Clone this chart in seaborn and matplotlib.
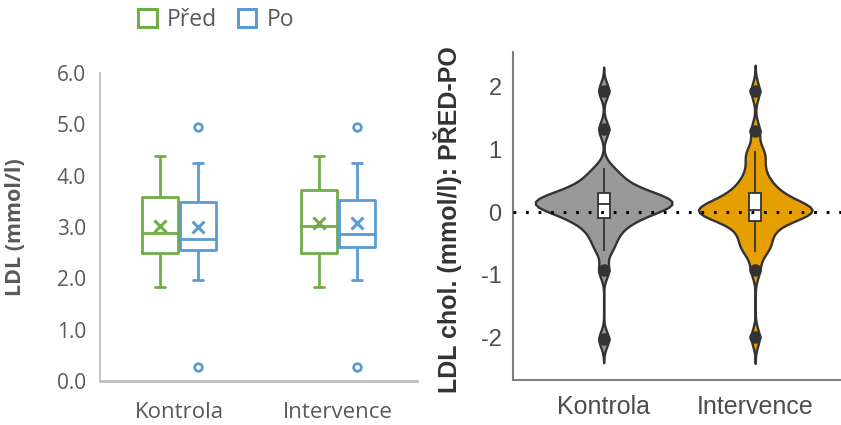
import numpy as np
import pandas as pd
import matplotlib
matplotlib.use("Agg")
import matplotlib.pyplot as plt
from matplotlib.patches import Patch
import seaborn as sns

# ---------------- data ----------------
groups = ["Kontrola", "Intervence"]
times = ["Před", "Po"]

kontrola_pred = [1.84, 2.10, 2.30, 2.45, 2.53, 2.65, 2.78, 2.89, 3.05, 3.25, 3.50, 3.66, 3.90, 4.10, 4.38]
kontrola_po = [0.27, 1.97, 2.30, 2.48, 2.55, 2.66, 2.71, 2.75, 2.77, 3.10, 3.30, 3.42, 3.48, 3.95, 4.15, 4.24, 4.94]
intervence_pred = [1.84, 2.10, 2.30, 2.44, 2.56, 2.72, 2.85, 3.02, 3.12, 3.25, 3.62, 3.82, 3.95, 4.07, 4.38]
intervence_po = [0.27, 1.97, 2.50, 2.60, 2.62, 2.74, 2.80, 2.84, 2.86, 3.20, 3.38, 3.48, 3.53, 4.05, 4.18, 4.24, 4.94]

diff_kontrola = [-2.03, -0.93, -0.62, -0.48, -0.37, -0.28, -0.20, -0.14, -0.10, -0.08,
                 -0.03, 0.01, 0.04, 0.06, 0.08, 0.10, 0.11, 0.13, 0.14, 0.16,
                 0.18, 0.20, 0.22, 0.24, 0.26, 0.29, 0.31, 0.35, 0.40, 0.46,
                 0.52, 0.60, 0.71, 1.32, 1.94]
diff_intervence = [-2.00, -0.92, -0.64, -0.58, -0.50, -0.40, -0.32, -0.25, -0.18, -0.12,
                   -0.08, -0.05, -0.03, -0.01, 0.00, 0.01, 0.02, 0.03, 0.05, 0.07,
                   0.09, 0.12, 0.15, 0.19, 0.24, 0.29, 0.33, 0.40, 0.48, 0.58,
                   0.72, 0.90, 0.97, 1.30, 1.93]

y_ticks_left = [0, 1, 2, 3, 4, 5, 6]
y_ticks_right = [-2, -1, 0, 1, 2]

# ---------------- tables ----------------
rows = []
for g, t, vals in [("Kontrola", "Před", kontrola_pred), ("Kontrola", "Po", kontrola_po),
                   ("Intervence", "Před", intervence_pred), ("Intervence", "Po", intervence_po)]:
    for v in vals:
        rows.append((g, t, v))
df_box = pd.DataFrame(rows, columns=["group", "time", "LDL"])

rows = [("Kontrola", v) for v in diff_kontrola] + [("Intervence", v) for v in diff_intervence]
df_vio = pd.DataFrame(rows, columns=["group", "diff"])

# ---------------- style ----------------
GREEN = "#70AD47"
BLUE = "#5B9BD5"
AX_GRAY = "#BFBFBF"
TXT_GRAY = "#595959"
VIO_COLORS = {"Kontrola": "#999999", "Intervence": "#E69F00"}
VIO_WIDTH = {"Kontrola": 0.90, "Intervence": 0.75}
VIO_BW = {"Kontrola": 0.20, "Intervence": 0.21}

sns.set_style("white")
plt.rcParams["font.family"] = ["Open Sans", "DejaVu Sans"]

fig = plt.figure(figsize=(8.41, 4.25), dpi=100)

# ---------------- left panel ----------------
axl = fig.add_axes([100 / 841, 1 - 381 / 425, 317 / 841, 308 / 425])
sns.boxplot(data=df_box, x="group", y="LDL", hue="time", order=groups, hue_order=times,
            palette=[GREEN, BLUE], saturation=1, fill=False, width=0.48, gap=0.06,
            linewidth=2.0, whis=1.5, showmeans=True, capwidths=0.065,
            meanprops=dict(marker="x", markersize=9, markeredgewidth=2.2),
            flierprops=dict(marker="o", markersize=5.5, markeredgewidth=2.0, markerfacecolor="white"),
            legend=False, ax=axl)
for ln in axl.lines:
    if ln.get_marker() == "x":
        xd = np.asarray(ln.get_xdata(), dtype=float)
        c = GREEN if (xd[0] - np.round(xd[0])) < 0 else BLUE
        ln.set_color(c)
        ln.set_markeredgecolor(c)

axl.set_ylim(0, 6)
axl.set_xlim(-0.5, 1.5)
axl.set_yticks(y_ticks_left)
axl.set_yticklabels([f"{v:.1f}" for v in y_ticks_left])
axl.set_xlabel("")
axl.set_ylabel("LDL (mmol/l)", fontsize=15.5, fontweight="bold", color=TXT_GRAY)
axl.yaxis.set_label_coords(-0.232, 0.5)
axl.tick_params(axis="y", length=0, pad=10, labelsize=15, labelcolor=TXT_GRAY)
axl.tick_params(axis="x", length=0, pad=15, labelsize=16, labelcolor=TXT_GRAY)
for s in ["top", "right"]:
    axl.spines[s].set_visible(False)
axl.spines["left"].set_color(AX_GRAY)
axl.spines["left"].set_linewidth(1.3)
axl.spines["bottom"].set_color(AX_GRAY)
axl.spines["bottom"].set_linewidth(2.0)

handles = [Patch(facecolor="white", edgecolor=GREEN, linewidth=2.2, label="Před"),
           Patch(facecolor="white", edgecolor=BLUE, linewidth=2.2, label="Po")]
fig.legend(handles=handles, loc="center", bbox_to_anchor=(216 / 841, 1 - 20 / 425), ncol=2,
           frameon=False, fontsize=16.5, handlelength=0.8, handleheight=0.8,
           handletextpad=0.45, columnspacing=0.9, labelcolor=TXT_GRAY)

# ---------------- right panel ----------------
axr = fig.add_axes([512.7 / 841, 1 - 380 / 425, (841 - 512.7) / 841, (380 - 51.7) / 425])
for g in groups:
    sub = df_vio[df_vio["group"] == g]
    sns.violinplot(data=sub, x="group", y="diff", order=groups, color=VIO_COLORS[g],
                   saturation=1, inner=None, cut=3, bw_method=VIO_BW[g],
                   width=VIO_WIDTH[g], linewidth=1.7, linecolor="#333333", ax=axr)
sns.boxplot(data=df_vio, x="group", y="diff", order=groups, color="white", saturation=1,
            width=0.08, linewidth=1.3, linecolor="#333333", fliersize=8, whis=1.5,
            capwidths=0.0,
            flierprops=dict(marker="o", markerfacecolor="#333333", markeredgecolor="#333333"),
            ax=axr)
axr.axhline(0, color="black", linestyle=(0, (0.9, 3.2)), linewidth=2.2, zorder=10)

axr.set_xlim(-0.6, 1.566)
axr.set_ylim(-2.68, 2.56)
axr.set_yticks(y_ticks_right)
axr.set_yticklabels([str(v) for v in y_ticks_right], family=["Liberation Sans"])
for lab in axr.get_xticklabels():
    lab.set_family(["Liberation Sans"])
axr.set_xlabel("")
axr.set_ylabel("LDL chol. (mmol/l): PŘED-PO", fontsize=18, fontweight="bold",
               color="#333333", family=["Liberation Sans", "DejaVu Sans"])
axr.yaxis.set_label_coords(-0.154, 0.49)
axr.tick_params(axis="y", length=0, pad=8, labelsize=17, labelcolor="#4D4D4D")
axr.tick_params(axis="x", length=0, pad=11, labelsize=18, labelcolor="#4D4D4D")
for s in ["top", "right"]:
    axr.spines[s].set_visible(False)
axr.spines["left"].set_color("#7F7F7F")
axr.spines["left"].set_linewidth(1.5)
axr.spines["bottom"].set_color("#7F7F7F")
axr.spines["bottom"].set_linewidth(1.5)

fig.savefig("out.png", dpi=100)
